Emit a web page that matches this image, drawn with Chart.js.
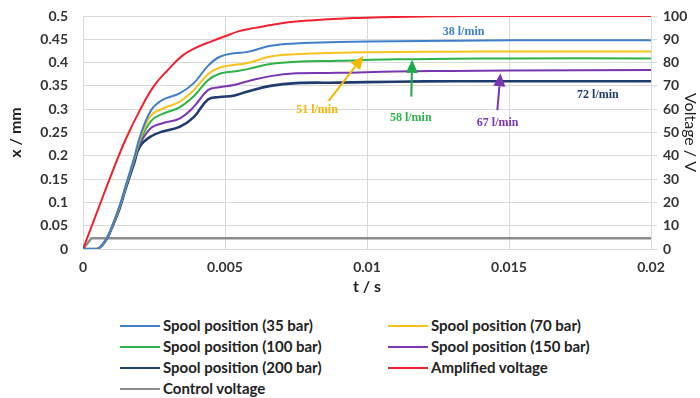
<!DOCTYPE html>
<html>
<head>
<meta charset="utf-8">
<script src="https://cdn.jsdelivr.net/npm/chart.js@4.4.1/dist/chart.umd.min.js"></script>
<style>
  html, body { margin: 0; padding: 0; background: #fff; }
  #wrap { position: relative; width: 700px; height: 398px; overflow: hidden; }
  #c { position: absolute; left: 0; top: 0; }
  #legend { position: absolute; left: 0; top: 315px; width: 700px; font-family: Lato, "Open Sans", sans-serif; font-weight: bold; font-size: 15px; color: #222; }
  .item { position: absolute; height: 20px; line-height: 20px; white-space: nowrap; }
  .item .ln { display: inline-block; width: 40px; height: 2px; vertical-align: middle; margin-right: 3px; position: relative; top: -1px; }
</style>
</head>
<body>
<div id="wrap">
  <canvas id="c" width="700" height="300"></canvas>
  <div id="legend"></div>
</div>
<script>
// ---- data ----
const timeS   = [0, 0.0005, 0.0008, 0.001, 0.0013, 0.0015, 0.0018, 0.002, 0.0024, 0.0028, 0.0034, 0.0039, 0.0044, 0.0048, 0.0053, 0.0058, 0.0066, 0.0075, 0.009, 0.011, 0.013, 0.015, 0.02];
const spool35  = [0, 0, 0.02, 0.045, 0.095, 0.135, 0.195, 0.24, 0.298, 0.32, 0.334, 0.356, 0.393, 0.412, 0.42, 0.423, 0.436, 0.441, 0.444, 0.446, 0.447, 0.448, 0.448];
const spool70  = [0, 0, 0.02, 0.045, 0.094, 0.134, 0.193, 0.235, 0.287, 0.301, 0.316, 0.341, 0.375, 0.389, 0.395, 0.399, 0.413, 0.418, 0.421, 0.423, 0.4235, 0.424, 0.424];
const spool100 = [0, 0, 0.02, 0.045, 0.093, 0.133, 0.191, 0.23, 0.275, 0.29, 0.304, 0.328, 0.362, 0.376, 0.381, 0.386, 0.397, 0.402, 0.404, 0.407, 0.408, 0.409, 0.409];
const spool150 = [0, 0, 0.019, 0.044, 0.091, 0.131, 0.188, 0.225, 0.26, 0.27, 0.28, 0.305, 0.341, 0.347, 0.352, 0.36, 0.371, 0.377, 0.378, 0.381, 0.382, 0.383, 0.384];
const spool200 = [0, 0, 0.018, 0.043, 0.089, 0.129, 0.184, 0.22, 0.242, 0.252, 0.262, 0.283, 0.321, 0.326, 0.329, 0.338, 0.35, 0.356, 0.357, 0.359, 0.36, 0.36, 0.36];
const timeV   = [0, 0.0005, 0.001, 0.0015, 0.002, 0.0025, 0.003, 0.0035, 0.004, 0.0045, 0.005, 0.0055, 0.006, 0.0065, 0.007, 0.0075, 0.008, 0.0085, 0.009, 0.0095, 0.01, 0.011, 0.012, 0.013, 0.014, 0.02];
const ampVolt = [0, 16, 32, 47, 59.5, 70, 77, 83, 86.5, 89, 91.3, 93.5, 94.8, 95.9, 96.9, 97.6, 98.1, 98.5, 98.8, 99.1, 99.3, 99.6, 99.8, 99.9, 100, 100];
const timeC   = [0, 0.0003, 0.02];
const ctrlVolt = [0, 4.6, 4.6];

const seriesLabels = ['Spool position (35 bar)', 'Spool position (70 bar)', 'Spool position (100 bar)', 'Spool position (150 bar)', 'Spool position (200 bar)', 'Amplified voltage', 'Control voltage'];
const seriesColors = ['#3f7fc8', '#f7c21a', '#2db24a', '#7a35b0', '#1f3c6e', '#f0202e', '#8c8c8c'];

const xTicks = [0, 0.005, 0.01, 0.015, 0.02];
const xTickLabels = ['0', '0.005', '0.01', '0.015', '0.02'];
const yTicks = [0, 0.05, 0.1, 0.15, 0.2, 0.25, 0.3, 0.35, 0.4, 0.45, 0.5];
const yTickLabels = ['0', '0.05', '0.1', '0.15', '0.2', '0.25', '0.3', '0.35', '0.4', '0.45', '0.5'];
const vTicks = [0, 10, 20, 30, 40, 50, 60, 70, 80, 90, 100];

// annotations: flow-rate labels and arrows (in data units)
const flowLabels = ['38 l/min', '51 l/min', '58 l/min', '67 l/min', '72 l/min'];
const flowLabelX = [0.0134, 0.00824, 0.01154, 0.0146, 0.01813];
const flowLabelY = [0.466, 0.298, 0.281, 0.271, 0.330];
const flowColors = ['#3f7fc8', '#f2b705', '#2db24a', '#7a35b0', '#1f3c6e'];
const arrowFrom = [[0.00865, 0.318], [0.01156, 0.327], [0.01459, 0.298]];
const arrowTo   = [[0.00987, 0.414], [0.01159, 0.406], [0.0147, 0.377]];
const arrowColors = ['#f5b800', '#1fa84a', '#7a35b0'];

const pts = (xs, ys) => xs.map((x, i) => ({x: x, y: ys[i]}));
const spoolData = [spool35, spool70, spool100, spool150, spool200];

const datasets = spoolData.map((arr, i) => ({
  label: seriesLabels[i], data: pts(timeS, arr), yAxisID: 'y',
  borderColor: seriesColors[i], borderWidth: i === 4 ? 2.6 : 2, pointRadius: 0,
  tension: 0.4, fill: false
}));
datasets.push({ label: seriesLabels[5], data: pts(timeV, ampVolt), yAxisID: 'y2',
  borderColor: seriesColors[5], borderWidth: 2, pointRadius: 0, tension: 0.4 });
datasets.push({ label: seriesLabels[6], data: pts(timeC, ctrlVolt), yAxisID: 'y2',
  borderColor: seriesColors[6], borderWidth: 2.4, pointRadius: 0, tension: 0 });
datasets[5].order = 10; datasets[6].order = 11;

const tickFont = { family: 'Lato, "Open Sans", sans-serif', size: 14, weight: 'bold' };
const gridColor = '#d9d9d9';

const annotPlugin = {
  id: 'annot',
  afterDatasetsDraw(chart) {
    const ctx = chart.ctx, xs = chart.scales.x, ys = chart.scales.y;
    ctx.save();
    arrowFrom.forEach((f, i) => {
      const x1 = xs.getPixelForValue(f[0]), y1 = ys.getPixelForValue(f[1]);
      const x2 = xs.getPixelForValue(arrowTo[i][0]), y2 = ys.getPixelForValue(arrowTo[i][1]);
      const ang = Math.atan2(y2 - y1, x2 - x1);
      const hl = 13, hw = 6;
      const bx = x2 - hl * Math.cos(ang), by = y2 - hl * Math.sin(ang);
      ctx.strokeStyle = arrowColors[i]; ctx.fillStyle = arrowColors[i]; ctx.lineWidth = 2;
      ctx.beginPath(); ctx.moveTo(x1, y1); ctx.lineTo(bx, by); ctx.stroke();
      ctx.beginPath(); ctx.moveTo(x2, y2);
      ctx.lineTo(bx + hw * Math.sin(ang), by - hw * Math.cos(ang));
      ctx.lineTo(bx - hw * Math.sin(ang), by + hw * Math.cos(ang));
      ctx.closePath(); ctx.fill();
    });
    ctx.font = 'bold 12px "Liberation Serif", "DejaVu Serif", serif';
    ctx.textAlign = 'center'; ctx.textBaseline = 'middle';
    flowLabels.forEach((t, i) => {
      ctx.fillStyle = flowColors[i];
      ctx.fillText(t, xs.getPixelForValue(flowLabelX[i]), ys.getPixelForValue(flowLabelY[i]));
    });
    ctx.restore();
  }
};

const chart = new Chart(document.getElementById('c'), {
  type: 'line',
  data: { datasets: datasets },
  options: {
    responsive: false, animation: false,
    layout: { padding: { top: 16, left: 0, right: 0, bottom: 0 } },
    plugins: { legend: { display: false }, tooltip: { enabled: false } },
    scales: {
      x: {
        type: 'linear', min: 0, max: 0.02,
        afterBuildTicks: s => { s.ticks = xTicks.map(v => ({value: v})); },
        ticks: { font: tickFont, color: '#333', padding: 10, maxRotation: 0,
          callback: (v, i) => xTickLabels[i] },
        grid: { color: gridColor, drawTicks: false },
        border: { color: gridColor },
        title: { display: true, text: 't / s', font: { family: 'Lato, "Open Sans", sans-serif', size: 16, weight: 'bold' }, color: '#222', padding: { top: 1 } },
        afterFit: s => { s.height = 51; s.paddingLeft = 0; s.paddingRight = 0; }
      },
      y: {
        type: 'linear', position: 'left', min: 0, max: 0.5,
        afterBuildTicks: s => { s.ticks = yTicks.map(v => ({value: v})); },
        ticks: { font: tickFont, color: '#333', padding: 15, callback: (v, i) => yTickLabels[i] },
        grid: { color: gridColor, drawTicks: false },
        border: { color: gridColor },
        title: { display: true, text: 'x / mm', font: { family: 'Lato, "Open Sans", sans-serif', size: 16, weight: 'bold' }, color: '#222', padding: { bottom: 0, top: 6 } },
        afterFit: s => { s.width = 83; s.paddingTop = 0; s.paddingBottom = 0; }
      },
      y2: {
        type: 'linear', position: 'right', min: 0, max: 100,
        afterBuildTicks: s => { s.ticks = vTicks.map(v => ({value: v})); },
        ticks: { font: tickFont, color: '#333', padding: 6 },
        grid: { drawOnChartArea: false, color: gridColor, tickLength: 6 },
        border: { color: gridColor },
        title: { display: true, text: 'Voltage / V', font: { family: 'Lato, "Open Sans", sans-serif', size: 16 }, color: '#222', padding: { top: 0, bottom: 0 } },
        afterFit: s => { s.width = 49; s.paddingTop = 0; s.paddingBottom = 0; }
      }
    }
  },
  plugins: [annotPlugin]
});

// HTML legend built from the chart datasets (2 columns)
const legend = document.getElementById('legend');
const colX = [120, 388];
const rowY = [0, 21, 42, 63];
seriesLabels.forEach((lab, i) => {
  const d = document.createElement('div');
  d.className = 'item';
  d.style.left = colX[i % 2] + 'px';
  d.style.top = rowY[Math.floor(i / 2)] + 'px';
  d.innerHTML = '<span class="ln" style="background:' + seriesColors[i] + '"></span>' + lab;
  legend.appendChild(d);
});
</script>
</body>
</html>
